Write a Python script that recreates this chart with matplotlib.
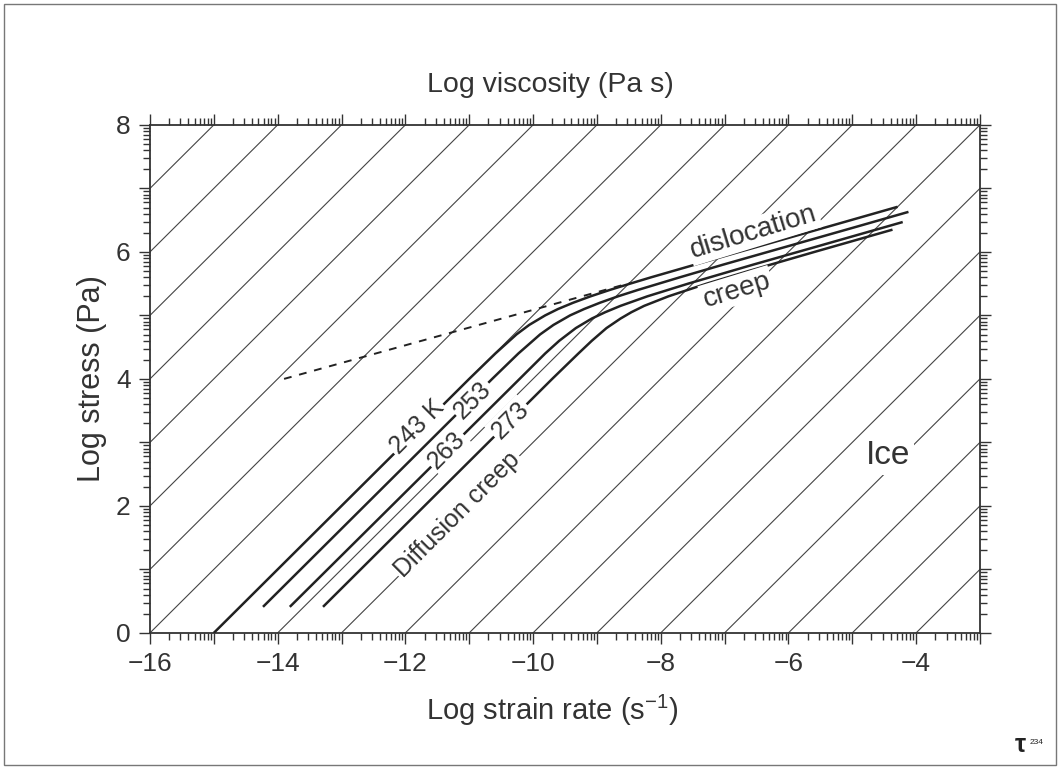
import numpy as np
import matplotlib.pyplot as plt
from matplotlib.patches import Rectangle

plt.rcParams['font.family'] = ['Liberation Sans', 'DejaVu Sans']
plt.rcParams['mathtext.fontset'] = 'custom'
plt.rcParams['mathtext.rm'] = 'Liberation Sans'

# isoviscosity lines: log stress = log strain rate + log viscosity
log_visc = list(range(4, 24))

# creep curves (log strain rate, log stress)
x_243 = [-15.0, -11.0, -10.59, -10.26, -10.06, -9.81, -9.61, -9.37, -9.10, -8.80, -8.48, -8.15, -7.46, -6.77, -5.37, -4.29]
y_243 = [0.0, 4.0, 4.4, 4.7, 4.85, 5.0, 5.1, 5.2, 5.3, 5.4, 5.5, 5.6, 5.8, 6.0, 6.4, 6.71]

x_253 = [-14.23, -10.64, -10.23, -9.89, -9.68, -9.42, -9.20, -8.95, -8.67, -8.36, -7.70, -7.02, -6.32, -4.92, -4.12]
y_253 = [0.41, 4.0, 4.4, 4.7, 4.85, 5.0, 5.1, 5.2, 5.3, 5.4, 5.6, 5.8, 6.0, 6.4, 6.63]

x_263 = [-13.81, -10.21, -9.81, -9.59, -9.33, -9.08, -8.87, -8.63, -8.21, -7.57, -6.55, -5.50, -4.21]
y_263 = [0.41, 4.0, 4.4, 4.6, 4.8, 4.95, 5.05, 5.15, 5.3, 5.5, 5.8, 6.1, 6.47]

x_273 = [-13.29, -9.70, -9.29, -9.08, -8.85, -8.63, -8.46, -8.26, -7.88, -7.28, -6.62, -5.59, -4.37]
y_273 = [0.41, 4.0, 4.4, 4.6, 4.8, 4.95, 5.05, 5.15, 5.3, 5.5, 5.7, 6.0, 6.35]

# dislocation creep extrapolation at 243 K
x_dash = [-13.9, -8.48]
y_dash = [4.0, 5.51]

fig = plt.figure(figsize=(10.6, 7.69), dpi=100)
ax = fig.add_axes([0.1415, 0.177, 0.783, 0.6606])

for c in log_visc:
    ax.axline((0, c), slope=1, color='#444444', lw=0.8, zorder=1)

for xs, ys in [(x_243, y_243), (x_253, y_253), (x_263, y_263), (x_273, y_273)]:
    ax.plot(xs, ys, color='#222222', lw=1.8, zorder=3, solid_capstyle='butt')
ax.plot(x_dash, y_dash, color='#222222', lw=1.4, ls=(0, (4, 4)), zorder=3)

ax.set_xlim(-16, -3)
ax.set_ylim(0, 8)

xt = list(range(-16, -2))
ax.set_xticks(xt)
ax.set_xticklabels(['\u2212%d' % -v if v % 2 == 0 and v != -3 else '' for v in xt])
yt = list(range(0, 9))
ax.set_yticks(yt)
ax.set_yticklabels([str(v) if v % 2 == 0 else '' for v in yt])

# log minor ticks inside each unit
k = np.log10(np.arange(2, 10))
ax.set_xticks([n + v for n in range(-16, -3) for v in k], minor=True)
ax.set_yticks([n + v for n in range(0, 8) for v in k], minor=True)

ax.tick_params(which='both', direction='out', top=True, right=True, color='#333333', width=1)
ax.tick_params(which='major', length=8, labelsize=19, labelcolor='#333333', pad=6)
ax.tick_params(which='minor', length=5)
for s in ax.spines.values():
    s.set_linewidth(1.3)
    s.set_color('#333333')

ax.set_xlabel('Log strain rate ($\\mathregular{s^{-1}}$)', fontsize=21, color='#333333', labelpad=12, x=0.485)
ax.set_ylabel('Log stress (Pa)', fontsize=22, color='#333333', labelpad=6)
ax.set_title('Log viscosity (Pa s)', fontsize=20.5, color='#333333', pad=24, x=0.483)

box = dict(fc='white', ec='none', pad=1.5)
tc = '#333333'
ax.text(-11.82, 3.24, '243 K', rotation=45, fontsize=18, color=tc, ha='center', va='center', bbox=box, zorder=5)
ax.text(-10.94, 3.67, '253', rotation=45, fontsize=18, color=tc, ha='center', va='center', bbox=box, zorder=5)
ax.text(-11.35, 2.88, '263', rotation=45, fontsize=18, color=tc, ha='center', va='center', bbox=box, zorder=5)
ax.text(-10.36, 3.35, '273', rotation=45, fontsize=18, color=tc, ha='center', va='center', bbox=box, zorder=5)
ax.text(-11.18, 1.86, 'Diffusion creep', rotation=45, fontsize=18, color=tc, ha='center', va='center', bbox=box, zorder=5)
ax.text(-6.54, 6.31, 'dislocation', rotation=17, fontsize=20, color=tc, ha='center', va='center', bbox=box, zorder=5)
ax.text(-6.81, 5.40, 'creep', rotation=17, fontsize=20, color=tc, ha='center', va='center', bbox=box, zorder=5)
ax.text(-4.44, 2.80, 'Ice', fontsize=24, color=tc, ha='center', va='center', bbox=dict(fc='white', ec='none', pad=3), zorder=5)

fig.add_artist(Rectangle((0.004, 0.005), 0.992, 0.99, transform=fig.transFigure,
                         fill=False, ec='#777777', lw=1))
fig.text(0.963, 0.031, '\u03c4', fontsize=18, fontweight='bold', color='#222222', ha='center', va='center')
fig.text(0.978, 0.034, '234', fontsize=6, color='#222222', ha='center', va='center')

fig.savefig('out.png', dpi=100)
